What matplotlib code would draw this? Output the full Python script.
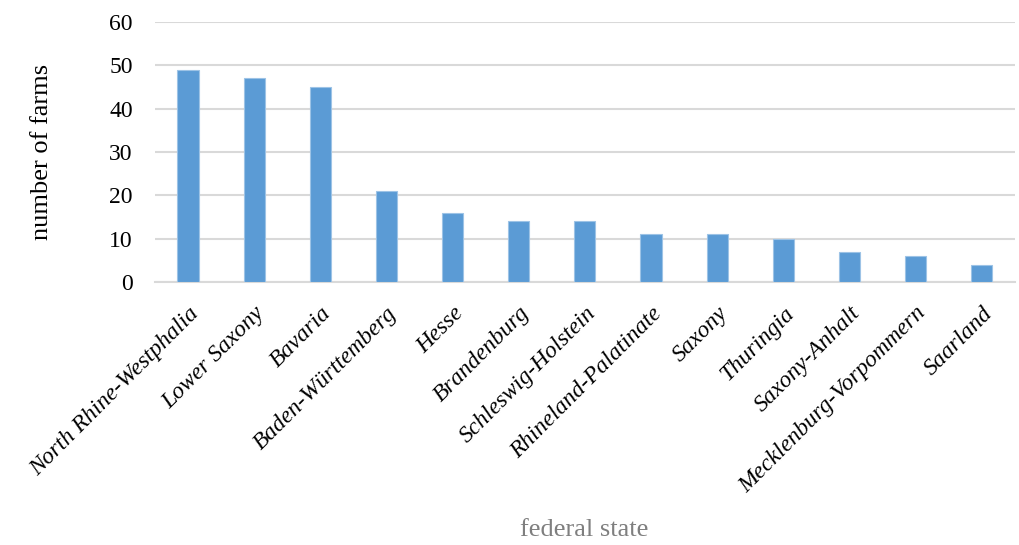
import numpy as np
import matplotlib.pyplot as plt

# farms per federal state
states = ['North Rhine-Westphalia', 'Lower Saxony', 'Bavaria', 'Baden-Württemberg',
          'Hesse', 'Brandenburg', 'Schleswig-Holstein', 'Rhineland-Palatinate',
          'Saxony', 'Thuringia', 'Saxony-Anhalt', 'Mecklenburg-Vorpommern', 'Saarland']
farms = [49, 47, 45, 21, 16, 14, 14, 11, 11, 10, 7, 6, 4]

plt.rcParams['font.family'] = ['Liberation Serif', 'DejaVu Serif']

fig = plt.figure(figsize=(10.19, 5.45), dpi=100)
ax = fig.add_axes([0.152, 0.4826, 0.844, 0.477])

x = np.arange(len(states))
ax.bar(x, farms, width=0.32, color='#5B9BD5', edgecolor='#9DC3E6', linewidth=0.8, zorder=3)

ax.set_xlim(-0.5, len(states) - 0.5)
ax.set_ylim(0, 60)
ax.set_yticks(range(0, 61, 10))
ax.yaxis.grid(True, color='#D9D9D9', linewidth=1.5, zorder=0)
for s in ['top', 'right', 'left']:
    ax.spines[s].set_visible(False)
ax.spines['bottom'].set_color('#D9D9D9')
ax.spines['bottom'].set_linewidth(1.5)
ax.tick_params(axis='both', length=0)
ax.tick_params(axis='y', pad=16, labelsize=17)

ax.set_xticks(x)
ax.set_xticklabels(states, rotation=45, ha='right', va='top',
                   rotation_mode='anchor', style='italic', fontsize=17)
ax.tick_params(axis='x', pad=15)

ax.set_ylabel('number of farms', fontsize=19, labelpad=40)
fig.text(0.573, 0.008, 'federal state', ha='center', va='bottom',
         fontsize=19, color='#7F7F7F')

fig.savefig('out.png', dpi=100)
